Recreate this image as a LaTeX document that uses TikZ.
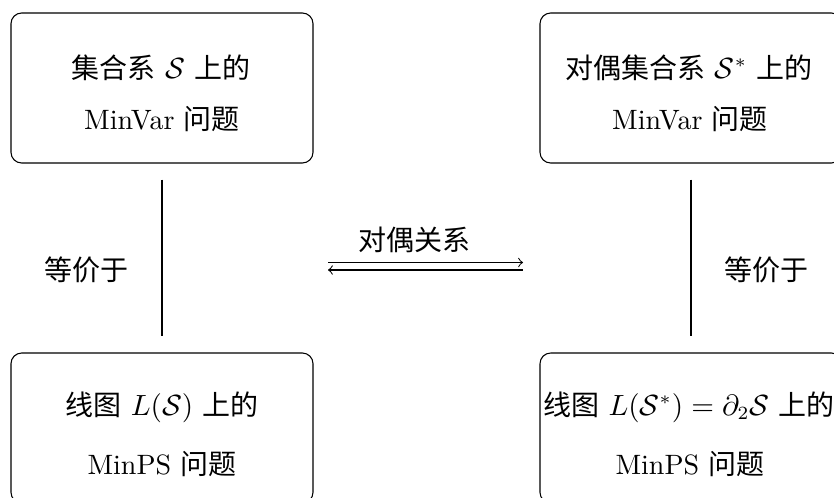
\documentclass[tikz,border=0pt]{standalone}
\usepackage{fontspec}
\newfontfamily\cjk{Noto Sans CJK SC}
\begin{document}
\begin{tikzpicture}[x=0.375pt,y=-0.375pt,
  every node/.style={font=\fontsize{10.5}{12.6}\selectfont},
  box/.style={draw, rounded corners=4pt, minimum width=113.25pt, minimum height=56.25pt, inner sep=0pt},
  txt/.style={anchor=base, inner sep=0pt},
  lbl/.style={inner sep=0pt},
  link/.style={line width=0.4pt, shorten <=6pt, shorten >=6pt}]
\useasboundingbox (0,0) rectangle (834,497);
% boxes
\node[box] (tl) at (162,88) {};
\node[box] (tr) at (691,88) {};
\node[box] (bl) at (162,428) {};
\node[box] (br) at (691,428) {};
% texts in boxes
\node[txt] (tl1) at (161,78) {{\cjk 集合系} $\mathcal{S}$ {\cjk 上的}};
\node[txt] (tl2) at (162,129) {MinVar {\cjk 问题}};
\node[txt] (tr1) at (689,78) {{\cjk 对偶集合系} $\mathcal{S}^*$ {\cjk 上的}};
\node[txt] (tr2) at (690,129) {MinVar {\cjk 问题}};
\node[txt] (bl1) at (162,415) {{\cjk 线图} $L(\mathcal{S})$ {\cjk 上的}};
\node[txt] (bl2) at (162,474) {MinPS {\cjk 问题}};
\node[txt] (br1) at (689,415) {{\cjk 线图} $L(\mathcal{S}^*)=\partial_2\mathcal{S}$ {\cjk 上的}};
\node[txt] (br2) at (690,474) {MinPS {\cjk 问题}};
% vertical connectors
\draw[link] (tl) -- (bl);
\draw[link] (tr) -- (br);
\node[lbl] (eql) at (86,270) {\cjk 等价于};
\node[lbl] (eqr) at (766,270) {\cjk 等价于};
% middle double arrow
\coordinate (a1) at (328,262.5);
\coordinate (b1) at (523,262.5);
\coordinate (a2) at (328,270);
\coordinate (b2) at (523,270);
\draw[->] (a1) -- (b1);
\draw[<-] (a2) -- (b2);
\node[lbl] (dual) at (414,240) {\cjk 对偶关系};
\end{tikzpicture}
\end{document}
